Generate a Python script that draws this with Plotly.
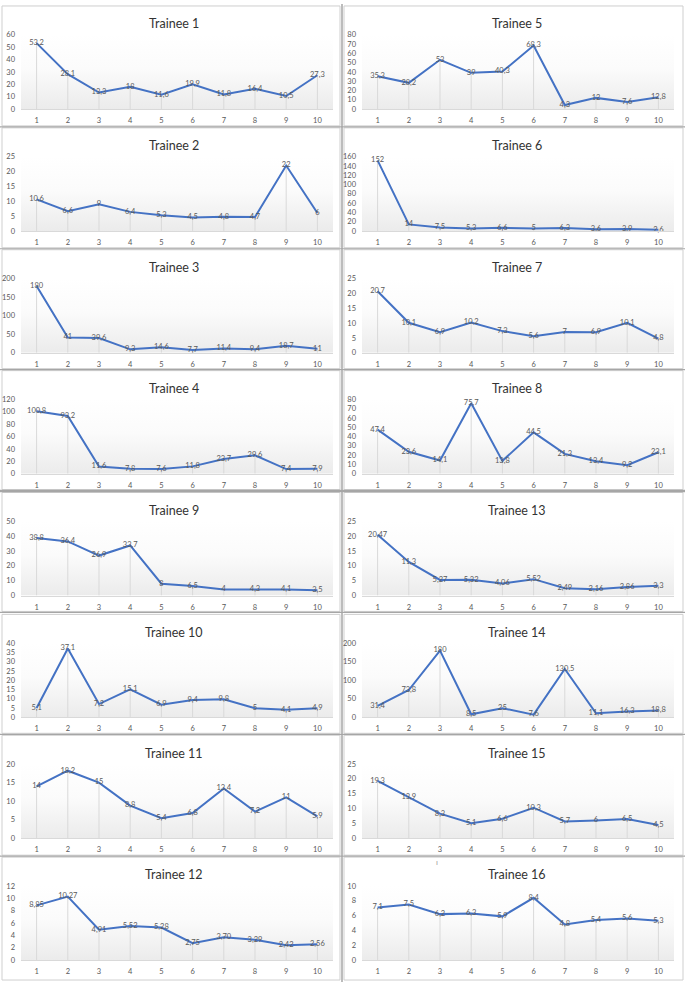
import plotly.graph_objects as go

W, H = 685, 987

categories = [1, 2, 3, 4, 5, 6, 7, 8, 9, 10]

t1 = [53.2, 28.1, 13.3, 18, 11.6, 19.9, 11.8, 16.4, 10.5, 27.3]
t2 = [10.6, 6.6, 9, 6.4, 5.3, 4.5, 4.8, 4.7, 22, 6]
t3 = [180, 41, 39.6, 9.3, 14.6, 7.7, 11.4, 9.4, 18.7, 11]
t4 = [100.8, 93.2, 11.6, 7.8, 7.6, 11.8, 23.7, 29.6, 7.4, 7.9]
t5 = [35.3, 28.2, 53, 39, 40.3, 68.3, 4.3, 12, 7.6, 12.8]
t6 = [152, 14, 7.5, 5.3, 6.6, 5.0, 6.3, 3.6, 3.9, 2.6]
t7 = [20.7, 10.1, 6.9, 10.2, 7.3, 5.6, 7, 6.9, 10.1, 4.8]
t8 = [47.4, 23.6, 14.1, 75.7, 13.8, 44.5, 21.3, 13.4, 9.2, 23.1]
t9 = [38.8, 36.4, 26.9, 33.7, 8, 6.5, 4, 4.3, 4.1, 3.5]
t10 = [5.1, 37.1, 7.2, 15.1, 6.9, 9.4, 9.8, 5, 4.1, 4.9]
t11 = [14, 18.2, 15, 8.8, 5.4, 6.8, 13.4, 7.2, 11, 5.9]
t12 = [8.85, 10.27, 4.91, 5.52, 5.28, 2.75, 3.70, 3.29, 2.42, 2.56]
t13 = [20.47, 11.3, 5.27, 5.32, 4.06, 5.52, 2.49, 2.16, 2.86, 3.3]
t14 = [31.4, 73.8, 180, 8.5, 25, 7.6, 130.5, 11.1, 16.3, 18.8]
t15 = [19.3, 13.9, 8.3, 5.1, 6.6, 10.3, 5.7, 6, 6.5, 4.5]
t16 = [7.1, 7.5, 6.2, 6.3, 5.9, 8.4, 4.8, 5.4, 5.6, 5.3]

titles = ["Trainee %d" % i for i in range(1, 17)]
series = [t1, t2, t3, t4, t5, t6, t7, t8, t9, t10, t11, t12, t13, t14, t15, t16]
y_max = [60, 25, 200, 120, 80, 160, 25, 80, 50, 40, 20, 12, 25, 200, 25, 10]
y_step = [10, 5, 50, 20, 10, 20, 5, 10, 10, 5, 5, 2, 5, 50, 5, 2]
label_decimals = {12: 2}

left_col = [1, 2, 3, 4, 9, 10, 11, 12]
right_col = [5, 6, 7, 8, 13, 14, 15, 16]
tops = [2, 125, 248, 370, 493, 616, 738, 861]
bottoms = [123, 246, 368, 490, 613, 736, 859, 985]

TITLE_FONT = "Lato, Liberation Sans, sans-serif"
SMALL_FONT = "Lato, Liberation Sans, sans-serif"


def px(x):
    return x / W


def py(y):
    return 1 - y / H


def fmt(v, trainee):
    d = label_decimals.get(trainee)
    s = ("%.*f" % (d, v)) if d is not None else ("%g" % v)
    return s.replace(".", ",")


fig = go.Figure()
layout = {}
shapes = []
annotations = []

for i in range(16):
    trainee = i + 1
    if trainee in left_col:
        col, row = 0, left_col.index(trainee)
    else:
        col, row = 1, right_col.index(trainee)
    top, bot = tops[row], bottoms[row]
    panel_l, panel_r = (2, 340) if col == 0 else (344, 683)
    plot_l, plot_r = (21, 333) if col == 0 else (362, 674)
    plot_t, plot_b = top + 29, top + 104

    n = i + 1
    xk = "xaxis" if n == 1 else "xaxis%d" % n
    yk = "yaxis" if n == 1 else "yaxis%d" % n
    xr = "x" if n == 1 else "x%d" % n
    yr = "y" if n == 1 else "y%d" % n

    vals = series[i]
    ymx = y_max[i]

    # plot-area background gradient
    fig.add_trace(go.Scatter(
        x=[categories[0] - 0.5, categories[-1] + 0.5], y=[ymx, ymx],
        xaxis=xr, yaxis=yr, mode="lines", line=dict(width=0),
        fill="tozeroy",
        fillgradient=dict(type="vertical", start=0, stop=ymx,
                          colorscale=[[0, "#ebebeb"], [0.55, "#fbfbfb"], [1, "#ffffff"]]),
        hoverinfo="skip", showlegend=False))

    fig.add_trace(go.Scatter(
        x=categories, y=vals, xaxis=xr, yaxis=yr,
        mode="lines+text",
        line=dict(color="#4472C4", width=2),
        text=[fmt(v, trainee) for v in vals],
        textposition="middle center",
        textfont=dict(family=SMALL_FONT, size=7.5, color="#595959"),
        error_y=dict(type="data", symmetric=False, array=[0] * len(vals),
                     arrayminus=vals, color="#d9d9d9", thickness=1, width=0),
        cliponaxis=False, showlegend=False, hoverinfo="skip"))

    layout[xk] = dict(domain=[px(plot_l), px(plot_r)], anchor=yr,
                      range=[categories[0] - 0.5, categories[-1] + 0.5],
                      tickvals=categories, ticks="", showgrid=False, zeroline=False,
                      showline=True, linecolor="#d9d9d9", linewidth=1,
                      tickfont=dict(family=SMALL_FONT, size=7.5, color="#595959"),
                      ticklabelstandoff=4, fixedrange=True)
    layout[yk] = dict(domain=[py(plot_b), py(plot_t)], anchor=xr,
                      range=[0, ymx], dtick=y_step[i], tick0=0, ticks="",
                      showgrid=False, zeroline=False, showline=False,
                      tickfont=dict(family=SMALL_FONT, size=7.5, color="#595959"),
                      ticklabelstandoff=5, fixedrange=True)

    shapes.append(dict(type="rect", xref="paper", yref="paper",
                       x0=px(panel_l), x1=px(panel_r), y0=py(bot), y1=py(top),
                       line=dict(color="#cfcfcf", width=1), layer="below"))
    annotations.append(dict(text=titles[i], xref="paper", yref="paper",
                            x=px((panel_l + panel_r) / 2 + 3), y=py(top + 18),
                            xanchor="center", yanchor="middle", showarrow=False,
                            font=dict(family=TITLE_FONT, size=12.5, color="#333333")))

# table grid lines
shapes.append(dict(type="line", xref="paper", yref="paper", x0=px(342), x1=px(342),
                   y0=0, y1=1, line=dict(color="#a6a6a6", width=1.5)))
for yb in [124, 247, 369, 614, 737, 860]:
    shapes.append(dict(type="line", xref="paper", yref="paper", x0=0, x1=1,
                       y0=py(yb), y1=py(yb), line=dict(color="#a6a6a6", width=1.2)))
shapes.append(dict(type="line", xref="paper", yref="paper", x0=0, x1=1,
                   y0=py(491.5), y1=py(491.5), line=dict(color="#a6a6a6", width=2.5)))

annotations.append(dict(text="ı", xref="paper", yref="paper", x=px(437), y=py(873),
                        showarrow=False, font=dict(family=SMALL_FONT, size=8, color="#9a9a9a")))

fig.update_layout(width=W, height=H, margin=dict(l=0, r=0, t=0, b=0),
                  paper_bgcolor="white", plot_bgcolor="rgba(0,0,0,0)",
                  hovermode=False,
                  shapes=shapes, annotations=annotations, **layout)

fig.write_html("out.html", config={"displayModeBar": False, "staticPlot": True},
               post_script="document.body.style.margin='0';document.body.style.overflow='hidden';")
